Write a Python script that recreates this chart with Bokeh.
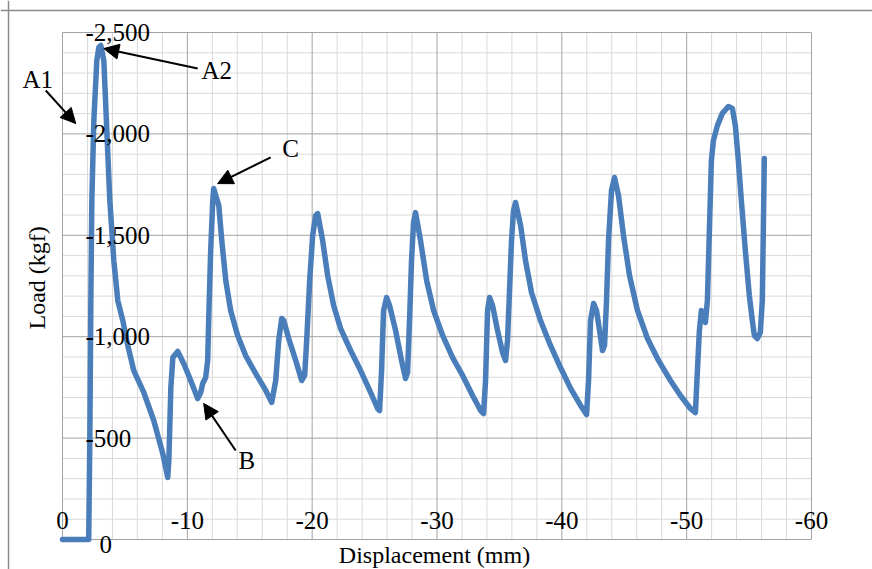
from bokeh.plotting import figure
from bokeh.models import Range1d, Label, Arrow, NormalHead, Span
from bokeh.embed import file_html
from bokeh.resources import INLINE

# ---- data (displacement in mm, load in kgf) ----
displacement = [
    0, -2.10,
    -2.19, -2.27, -2.35, -2.51, -2.75, -2.91,
    -3.07, -3.31, -3.55, -3.79, -4.11, -4.43, -4.83, -5.23, -5.71, -6.51, -7.31, -8.03, -8.43,
    -8.52, -8.68, -8.84, -9.23, -9.71, -10.27, -10.83, -11.07, -11.23, -11.47, -11.63, -11.71, -11.87, -12.04, -12.11,
    -12.52, -12.76, -13.08, -13.47, -14.03, -14.67, -15.47, -16.28, -16.76, -17.08, -17.32, -17.56, -17.72, -18.12,
    -18.68, -19.16, -19.40, -19.56, -19.80, -20.04, -20.28, -20.44,
    -20.84, -21.24, -21.72, -22.28, -23.08, -23.88, -24.68, -25.24, -25.40, -25.56, -25.72, -25.96, -26.20, -26.68,
    -27.16, -27.48, -27.64, -27.80, -27.96, -28.12, -28.28,
    -28.68, -29.17, -29.73, -30.45, -31.25, -32.05, -32.85, -33.49, -33.73, -33.89, -34.05, -34.21, -34.45, -34.85,
    -35.25, -35.49, -35.65, -35.81, -35.97, -36.13, -36.29,
    -36.70, -37.09, -37.57, -38.29, -39.09, -39.89, -40.70, -41.50, -41.98, -42.14, -42.30, -42.54, -42.78, -43.02,
    -43.26, -43.42, -43.58, -43.74, -43.98, -44.22,
    -44.54, -44.94, -45.42, -46.06, -46.86, -47.74, -48.70, -49.50, -50.30, -50.70, -50.86, -51.02, -51.18, -51.34,
    -51.50, -51.66, -51.82, -51.98, -52.14, -52.46, -52.86, -53.34, -53.66, -53.90, -54.14, -54.38, -54.70, -55.02,
    -55.26, -55.42, -55.66, -55.90, -56.06, -56.14, -56.22,
]
load = [
    0, 0,
    -503, -1178, -1672, -2066, -2362, -2426,
    -2436, -2362, -2017, -1672, -1376, -1178, -1080, -957, -833, -725, -587, -424, -306,
    -390, -750, -897, -927, -868, -784, -695, -725, -769, -799, -883, -1080, -1425, -1672, -1731,
    -1647, -1474, -1277, -1129, -1006, -907, -819, -735, -676, -784, -981, -1090, -1080, -991,
    -883, -784, -809, -981, -1277, -1499, -1598, -1607,
    -1474, -1302, -1154, -1040, -932, -833, -725, -646, -636, -833, -1129, -1193, -1154, -1031,
    -883, -794, -823, -1080, -1376, -1563, -1612,
    -1474, -1277, -1129, -1006, -897, -809, -710, -636, -621, -784, -1129, -1193, -1154, -1031,
    -922, -883, -981, -1228, -1474, -1622, -1662,
    -1548, -1376, -1218, -1080, -957, -848, -745, -661, -616, -784, -1080, -1164, -1129, -1031,
    -932, -957, -1178, -1474, -1721, -1785,
    -1696, -1499, -1302, -1129, -991, -883, -784, -710, -646, -626, -833, -1031, -1129, -1105,
    -1070, -1178, -1524, -1869, -1967, -2041, -2101, -2135, -2125, -2041, -1869, -1672, -1425, -1203,
    -1080, -1006, -991, -1021, -1178, -1524, -1879,
]

x_ticks = [0, -10, -20, -30, -40, -50, -60]
x_tick_labels = ["0", "-10", "-20", "-30", "-40", "-50", "-60"]
x_minor = [-2, -4, -6, -8, -12, -14, -16, -18, -22, -24, -26, -28, -32, -34, -36, -38,
           -42, -44, -46, -48, -52, -54, -56, -58]
y_ticks = [0, -500, -1000, -1500, -2000, -2500]
y_tick_labels = ["0", "-500", "-1,000", "-1,500", "-2,000", "-2,500"]
y_minor = [-100, -200, -300, -400, -600, -700, -800, -900, -1100, -1200, -1300, -1400,
           -1600, -1700, -1800, -1900, -2100, -2200, -2300, -2400]

x_title = "Displacement (mm)"
y_title = "Load (kgf)"

# ---- layout (pixels) ----
W, H = 872, 569
PL, PR, PT, PB = 62, 811, 32, 539          # plot area edges on the canvas
X0, X1 = x_ticks[0], x_ticks[-1]
Y0, Y1 = y_ticks[0], y_ticks[-1]
mm_px = (X0 - X1) / (PR - PL)
kg_px = (Y0 - Y1) / (PB - PT)
x_range = Range1d(X0 + PL * mm_px, X1 - (W - PR) * mm_px)
y_range = Range1d(Y0 + (H - PB) * kg_px, Y1 - PT * kg_px)

FONT = "Liberation Serif"
FS = "25px"
MAJOR = "#a3a3a3"
MINOR = "#d9d9d9"

p = figure(width=W, height=H, output_backend="svg", toolbar_location=None,
           x_range=x_range, y_range=y_range,
           min_border=0, min_border_left=0, min_border_right=0, min_border_top=0, min_border_bottom=0)
p.xaxis.visible = False
p.yaxis.visible = False
p.grid.visible = False
p.title.visible = False
p.outline_line_color = None
p.background_fill_color = "white"
p.border_fill_color = "white"

# outer chart border (left and top)
p.add_layout(Span(location=x_range.start - 8 * mm_px, dimension="height", line_color="#8a8a8a", line_width=1.5))
p.add_layout(Span(location=y_range.end + 10 * kg_px, dimension="width", line_color="#8a8a8a", line_width=1.5))

# grid
p.segment(x0=x_minor, y0=[Y0] * len(x_minor), x1=x_minor, y1=[Y1] * len(x_minor), line_color=MINOR, line_width=1)
p.segment(x0=[X0] * len(y_minor), y0=y_minor, x1=[X1] * len(y_minor), y1=y_minor, line_color=MINOR, line_width=1)
p.segment(x0=x_ticks, y0=[Y0] * len(x_ticks), x1=x_ticks, y1=[Y1] * len(x_ticks), line_color=MAJOR, line_width=1)
p.segment(x0=[X0] * len(y_ticks), y0=y_ticks, x1=[X1] * len(y_ticks), y1=y_ticks, line_color=MAJOR, line_width=1)

p.line(displacement, load, line_color="#4a7ebb", line_width=5.5, line_join="round", line_cap="round")

# tick labels
for v, t in zip(x_ticks, x_tick_labels):
    p.add_layout(Label(x=v, y=Y0, y_offset=19, text=t, text_align="center", text_baseline="middle",
                       text_font=FONT, text_font_size=FS, text_color="black"))
for v, t in zip(y_ticks, y_tick_labels):
    if v == Y0:
        p.add_layout(Label(x=X0, y=v, x_offset=37, y_offset=-5, text=t, text_align="left",
                           text_baseline="middle", text_font=FONT, text_font_size=FS, text_color="black"))
    else:
        p.add_layout(Label(x=X0, y=v, x_offset=23, text=t, text_align="left", text_baseline="middle",
                           text_font=FONT, text_font_size=FS, text_color="black"))

# axis titles
p.add_layout(Label(x=-29.8, y=Y0, y_offset=-15, text=x_title, text_align="center", text_baseline="middle",
                   text_font=FONT, text_font_size="24px", text_color="black"))
p.add_layout(Label(x=X0, y=-1290, x_offset=-26, text=y_title, angle=90, angle_units="deg",
                   text_align="center", text_baseline="middle",
                   text_font=FONT, text_font_size="24px", text_color="black"))

# annotations
notes = [
    ("A1", 1.98, -2268, 1.34, -2214, -1.06, -2051),
    ("A2", -12.36, -2315, -10.83, -2322, -3.31, -2421),
    ("C", -18.28, -1930, -16.68, -1884, -12.43, -1755),
    ("B", -14.76, -390, -13.87, -439, -11.31, -671),
]
for t, tx, ty, xs, ys, xe, ye in notes:
    p.add_layout(Label(x=tx, y=ty, text=t, text_align="center", text_baseline="middle",
                       text_font=FONT, text_font_size=FS, text_color="black"))
    p.add_layout(Arrow(end=NormalHead(size=15, fill_color="black", line_color="black"),
                       x_start=xs, y_start=ys, x_end=xe, y_end=ye,
                       line_color="black", line_width=2))

open("out.html", "w").write(file_html(p, INLINE))
